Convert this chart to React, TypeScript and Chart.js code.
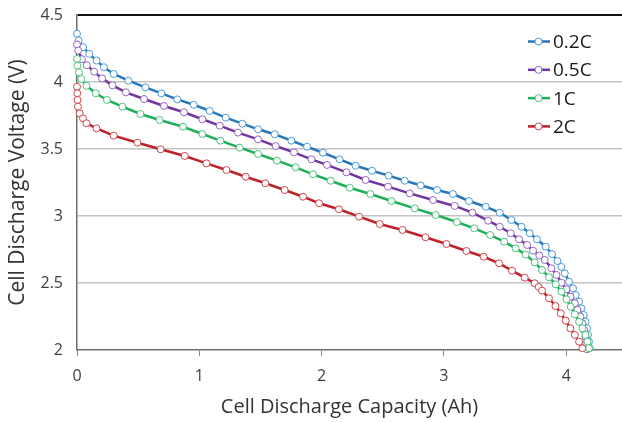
import React, { useEffect, useRef } from "react";
import { Chart, registerables } from "chart.js";

Chart.register(...registerables);

const seriesNames = ["0.2C", "0.5C", "1C", "2C"];

const cap02 = [0, 0.014, 0.05, 0.1, 0.16, 0.22, 0.3, 0.42, 0.56, 0.69, 0.82, 0.954, 1.085, 1.216, 1.352, 1.48, 1.616, 1.753, 1.881, 2.011, 2.147, 2.278, 2.412, 2.548, 2.679, 2.81, 2.944, 3.074, 3.205, 3.342, 3.456, 3.552, 3.634, 3.702, 3.761, 3.832, 3.884, 3.928, 3.96, 3.988, 4.023, 4.056, 4.078, 4.105, 4.124, 4.143, 4.157, 4.17, 4.178, 4.186, 4.192];
const volt02 = [4.36, 4.31, 4.26, 4.21, 4.16, 4.11, 4.06, 4.01, 3.96, 3.915, 3.87, 3.83, 3.784, 3.734, 3.689, 3.647, 3.61, 3.562, 3.517, 3.472, 3.423, 3.375, 3.338, 3.301, 3.263, 3.229, 3.194, 3.164, 3.112, 3.069, 3.025, 2.97, 2.92, 2.871, 2.826, 2.771, 2.716, 2.664, 2.62, 2.572, 2.51, 2.46, 2.41, 2.36, 2.311, 2.261, 2.211, 2.162, 2.112, 2.062, 2.013];

const cap05 = [0, 0.01, 0.04, 0.08, 0.14, 0.205, 0.29, 0.4, 0.548, 0.711, 0.875, 1.025, 1.167, 1.316, 1.48, 1.625, 1.774, 1.917, 2.044, 2.203, 2.36, 2.543, 2.72, 2.911, 3.088, 3.233, 3.361, 3.456, 3.546, 3.614, 3.68, 3.729, 3.78, 3.824, 3.879, 3.92, 3.961, 4.002, 4.034, 4.07, 4.092, 4.116, 4.132, 4.146, 4.157, 4.165, 4.17];
const volt05 = [4.28, 4.235, 4.17, 4.125, 4.077, 4.027, 3.975, 3.923, 3.873, 3.821, 3.774, 3.722, 3.674, 3.622, 3.572, 3.522, 3.475, 3.423, 3.381, 3.326, 3.269, 3.219, 3.169, 3.119, 3.075, 3.025, 2.965, 2.92, 2.871, 2.826, 2.784, 2.741, 2.705, 2.672, 2.61, 2.56, 2.502, 2.453, 2.398, 2.349, 2.299, 2.249, 2.199, 2.149, 2.099, 2.05, 2.005];

const cap1 = [0, 0.003, 0.016, 0.036, 0.077, 0.153, 0.245, 0.371, 0.518, 0.676, 0.867, 1.025, 1.172, 1.33, 1.48, 1.635, 1.788, 1.93, 2.074, 2.23, 2.399, 2.571, 2.761, 2.933, 3.106, 3.248, 3.378, 3.493, 3.586, 3.668, 3.742, 3.802, 3.859, 3.914, 3.961, 4.002, 4.037, 4.07, 4.105, 4.132, 4.157, 4.173, 4.186];
const volt1 = [4.172, 4.122, 4.072, 4.022, 3.972, 3.916, 3.866, 3.816, 3.761, 3.716, 3.666, 3.612, 3.562, 3.51, 3.463, 3.413, 3.363, 3.311, 3.263, 3.211, 3.164, 3.112, 3.057, 3.007, 2.955, 2.908, 2.858, 2.808, 2.759, 2.712, 2.654, 2.597, 2.543, 2.49, 2.435, 2.378, 2.323, 2.266, 2.211, 2.162, 2.112, 2.062, 2.013];

const cap2 = [0, 0.002, 0.004, 0.008, 0.022, 0.049, 0.077, 0.159, 0.3, 0.494, 0.684, 0.881, 1.058, 1.222, 1.379, 1.54, 1.698, 1.848, 1.979, 2.142, 2.306, 2.475, 2.661, 2.849, 3.02, 3.184, 3.325, 3.451, 3.557, 3.661, 3.742, 3.775, 3.802, 3.859, 3.912, 3.955, 3.996, 4.034, 4.07, 4.105, 4.132];
const volt2 = [3.965, 3.916, 3.866, 3.816, 3.766, 3.729, 3.692, 3.654, 3.6, 3.547, 3.498, 3.448, 3.393, 3.343, 3.293, 3.244, 3.194, 3.144, 3.095, 3.05, 2.995, 2.94, 2.896, 2.841, 2.791, 2.739, 2.696, 2.647, 2.592, 2.54, 2.498, 2.47, 2.443, 2.386, 2.328, 2.274, 2.219, 2.162, 2.112, 2.062, 2.013];

const xTicks = [0, 1, 2, 3, 4];
const yTicks = [2, 2.5, 3, 3.5, 4, 4.5];

const lineColors = ["#2877B9", "#7434A3", "#1FAE5A", "#C0202A"];
const markerColors = ["#4C9AD6", "#9366BE", "#4CC27E", "#D0454C"];

const FONT = "'Open Sans', 'Noto Sans', sans-serif";

function toPoints(xs: number[], ys: number[]) {
  return xs.map((x, i) => ({ x, y: ys[i] }));
}

const legendPlugin = {
  id: "customLegend",
  afterDraw(chart: any) {
    const ctx = chart.ctx;
    const ds = chart.data.datasets;
    ctx.save();
    ds.forEach((d: any, i: number) => {
      const y = 41.5 + i * 28.3;
      const x0 = 528;
      ctx.strokeStyle = d.borderColor;
      ctx.lineWidth = 2.5;
      ctx.beginPath();
      ctx.moveTo(x0, y);
      ctx.lineTo(x0 + 22, y);
      ctx.stroke();
      ctx.beginPath();
      ctx.arc(x0 + 10.5, y, 3.5, 0, Math.PI * 2);
      ctx.fillStyle = "#ffffff";
      ctx.fill();
      ctx.lineWidth = 1;
      ctx.strokeStyle = d.pointBorderColor;
      ctx.stroke();
      ctx.fillStyle = "#1a1a1a";
      ctx.font = `19px ${FONT}`;
      ctx.textBaseline = "middle";
      ctx.textAlign = "left";
      ctx.fillText(d.label, x0 + 25, y + 1);
    });
    ctx.restore();
  },
};

export default function App() {
  const ref = useRef<HTMLCanvasElement | null>(null);

  useEffect(() => {
    if (!ref.current) return;
    const all = [
      toPoints(cap02, volt02),
      toPoints(cap05, volt05),
      toPoints(cap1, volt1),
      toPoints(cap2, volt2),
    ];
    const chart = new Chart(ref.current, {
      type: "line",
      data: {
        datasets: all.map((pts, i) => ({
          label: seriesNames[i],
          data: pts,
          borderColor: lineColors[i],
          borderWidth: 2.5,
          pointRadius: 3.5,
          pointBorderWidth: 1,
          pointBackgroundColor: "#ffffff",
          pointBorderColor: markerColors[i],
          tension: 0,
          clip: false as any,
          order: 4 - i,
        })),
      },
      options: {
        animation: false,
        responsive: false,
        maintainAspectRatio: false,
        layout: { padding: { top: 15, right: 0, left: 0, bottom: 0 } },
        plugins: {
          legend: { display: false },
          tooltip: { enabled: false },
        },
        scales: {
          x: {
            type: "linear",
            min: 0,
            max: 4.456,
            afterBuildTicks: (scale: any) => {
              scale.ticks = xTicks.map((v) => ({ value: v }));
            },
            afterFit: (scale: any) => {
              scale.height = 72;
              scale.paddingLeft = 0;
              scale.paddingRight = 0;
            },
            border: { display: true, color: "#6e6e6e", width: 1.5 },
            grid: {
              drawOnChartArea: false,
              drawTicks: true,
              tickLength: 6,
              color: "#8a8a8a",
              lineWidth: 1,
            },
            ticks: {
              padding: 11,
              color: "#404040",
              font: { family: FONT, size: 16 },
              maxRotation: 0,
              callback: (v: any) => String(v),
            },
            title: {
              display: true,
              text: "Cell Discharge Capacity (Ah)",
              color: "#333333",
              font: { family: FONT, size: 20 },
              padding: { top: 0, bottom: 3 },
            },
          },
          y: {
            type: "linear",
            min: 2,
            max: 4.5,
            afterBuildTicks: (scale: any) => {
              scale.ticks = yTicks.map((v) => ({ value: v }));
            },
            afterFit: (scale: any) => {
              scale.width = 77;
              scale.paddingTop = 0;
              scale.paddingBottom = 0;
            },
            border: { display: true, color: "#6e6e6e", width: 1.5 },
            grid: {
              drawTicks: false,
              color: (c: any) =>
                c.tick && c.tick.value === 4.5
                  ? "#111111"
                  : c.tick && c.tick.value === 2
                  ? "rgba(0,0,0,0)"
                  : "#c4c4c4",
              lineWidth: (c: any) => (c.tick && c.tick.value === 4.5 ? 2 : 1.5),
            },
            ticks: {
              padding: 14,
              color: "#404040",
              font: { family: FONT, size: 16 },
              callback: (v: any) => String(v),
            },
            title: {
              display: true,
              text: "Cell Discharge Voltage (V)",
              color: "#333333",
              font: { family: FONT, size: 21 },
              padding: { top: 5, bottom: 0 },
            },
          },
        },
      },
      plugins: [legendPlugin],
    });
    return () => chart.destroy();
  }, []);

  return (
    <div style={{ position: "fixed", left: 0, top: 0, width: 622, height: 422, overflow: "hidden", background: "#ffffff" }}>
      <canvas ref={ref} width={627} height={422} style={{ width: 627, height: 422, display: "block" }} />
    </div>
  );
}
